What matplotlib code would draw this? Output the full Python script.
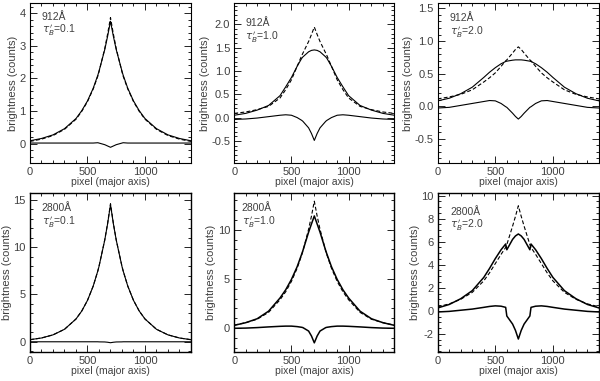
import matplotlib
matplotlib.use("Agg")
import matplotlib.pyplot as plt
from matplotlib.ticker import MultipleLocator, FormatStrFormatter

# pixel positions along the major axis (shared by every curve)
pixel = [0, 100, 200, 300, 400, 450, 500, 550, 590, 600, 650, 675, 700,
         725, 750, 800, 810, 850, 900, 950, 1000, 1100, 1200, 1300, 1400]

# 912 A, tau = 0.1
solid_912_01 = [0.09, 0.16, 0.27, 0.46, 0.77, 1.01, 1.31, 1.70, 2.10, 2.22, 2.88, 3.29, 3.75,
                3.29, 2.88, 2.22, 2.10, 1.70, 1.31, 1.01, 0.77, 0.46, 0.27, 0.16, 0.09]
dashed_912_01 = [0.07, 0.14, 0.25, 0.44, 0.75, 0.99, 1.29, 1.68, 2.07, 2.20, 2.91, 3.36, 3.86,
                 3.36, 2.91, 2.20, 2.07, 1.68, 1.29, 0.99, 0.75, 0.44, 0.25, 0.14, 0.07]
diff_912_01 = [0.02, 0.02, 0.02, 0.02, 0.02, 0.02, 0.02, 0.02, 0.03, 0.02, -0.03, -0.07, -0.11,
               -0.07, -0.03, 0.02, 0.03, 0.02, 0.02, 0.02, 0.02, 0.02, 0.02, 0.02, 0.02]

# 912 A, tau = 1.0
solid_912_10 = [0.05, 0.09, 0.16, 0.26, 0.47, 0.66, 0.86, 1.10, 1.27, 1.30, 1.41, 1.44, 1.45,
                1.44, 1.41, 1.30, 1.27, 1.10, 0.86, 0.66, 0.47, 0.26, 0.16, 0.09, 0.05]
dashed_912_10 = [0.09, 0.12, 0.17, 0.24, 0.42, 0.60, 0.81, 1.10, 1.33, 1.38, 1.63, 1.78, 1.94,
                 1.78, 1.63, 1.38, 1.33, 1.10, 0.81, 0.60, 0.42, 0.24, 0.17, 0.12, 0.09]
diff_912_10 = [-0.04, -0.03, -0.01, 0.02, 0.05, 0.06, 0.05, 0.00, -0.06, -0.08, -0.22, -0.34, -0.49,
               -0.34, -0.22, -0.08, -0.06, 0.00, 0.05, 0.06, 0.05, 0.02, -0.01, -0.03, -0.04]

# 912 A, tau = 2.0
solid_912_20 = [0.08, 0.12, 0.19, 0.29, 0.44, 0.52, 0.59, 0.65, 0.685, 0.69, 0.705, 0.71, 0.71,
                0.71, 0.705, 0.69, 0.685, 0.65, 0.59, 0.52, 0.44, 0.29, 0.19, 0.12, 0.08]
dashed_912_20 = [0.11, 0.14, 0.18, 0.25, 0.37, 0.435, 0.51, 0.61, 0.695, 0.71, 0.815, 0.87, 0.91,
                 0.87, 0.815, 0.71, 0.695, 0.61, 0.51, 0.435, 0.37, 0.25, 0.18, 0.14, 0.11]
diff_912_20 = [-0.03, -0.02, 0.01, 0.04, 0.07, 0.085, 0.08, 0.04, -0.01, -0.02, -0.11, -0.16, -0.20,
               -0.16, -0.11, -0.02, -0.01, 0.04, 0.08, 0.085, 0.07, 0.04, 0.01, -0.02, -0.03]

# 2800 A, tau = 0.1
solid_2800_01 = [0.22, 0.40, 0.73, 1.32, 2.41, 3.25, 4.38, 5.90, 7.50, 7.96, 10.75, 12.48, 14.5,
                 12.48, 10.75, 7.96, 7.50, 5.90, 4.38, 3.25, 2.41, 1.32, 0.73, 0.40, 0.22]
dashed_2800_01 = [0.22, 0.40, 0.73, 1.32, 2.41, 3.25, 4.38, 5.90, 7.50, 7.97, 10.77, 12.53, 14.6,
                  12.53, 10.77, 7.97, 7.50, 5.90, 4.38, 3.25, 2.41, 1.32, 0.73, 0.40, 0.22]
diff_2800_01 = [0.0, 0.0, 0.0, 0.0, 0.0, 0.0, 0.0, 0.0, 0.0, -0.01, -0.02, -0.05, -0.10,
                -0.05, -0.02, -0.01, 0.0, 0.0, 0.0, 0.0, 0.0, 0.0, 0.0, 0.0, 0.0]

# 2800 A, tau = 1.0
solid_2800_10 = [0.28, 0.55, 0.95, 1.72, 3.06, 3.90, 4.95, 6.24, 7.53, 7.87, 9.75, 10.58, 11.4,
                 10.58, 9.75, 7.87, 7.53, 6.24, 4.95, 3.90, 3.06, 1.72, 0.95, 0.55, 0.28]
dashed_2800_10 = [0.30, 0.55, 0.90, 1.60, 2.88, 3.70, 4.75, 6.09, 7.45, 7.82, 10.05, 11.38, 12.9,
                  11.38, 10.05, 7.82, 7.45, 6.09, 4.75, 3.70, 2.88, 1.60, 0.90, 0.55, 0.30]
diff_2800_10 = [-0.02, 0.0, 0.05, 0.12, 0.18, 0.20, 0.20, 0.15, 0.08, 0.05, -0.30, -0.80, -1.50,
                -0.80, -0.30, 0.05, 0.08, 0.15, 0.20, 0.20, 0.18, 0.12, 0.05, 0.0, -0.02]

# 2800 A, tau = 2.0
solid_2800_20 = [0.25, 0.55, 1.05, 1.75, 2.90, 3.68, 4.53, 5.30, 5.80, 5.30, 6.20, 6.50, 6.67,
                 6.50, 6.20, 5.30, 5.80, 5.30, 4.53, 3.68, 2.90, 1.75, 1.05, 0.55, 0.25]
dashed_2800_20 = [0.35, 0.60, 1.00, 1.60, 2.60, 3.30, 4.10, 4.90, 5.50, 5.75, 7.35, 8.20, 9.12,
                  8.20, 7.35, 5.75, 5.50, 4.90, 4.10, 3.30, 2.60, 1.60, 1.00, 0.60, 0.35]
diff_2800_20 = [-0.10, -0.05, 0.05, 0.15, 0.30, 0.38, 0.43, 0.40, 0.30, -0.45, -1.15, -1.70, -2.45,
                -1.70, -1.15, -0.45, 0.30, 0.40, 0.43, 0.38, 0.30, 0.15, 0.05, -0.05, -0.10]

wavelengths = ["912Å", "912Å", "912Å", "2800Å", "2800Å", "2800Å"]
taus = ["0.1", "1.0", "2.0", "0.1", "1.0", "2.0"]

plt.rcParams["font.family"] = ["Liberation Sans", "DejaVu Sans"]
plt.rcParams["mathtext.fontset"] = "dejavusans"
plt.rcParams["axes.unicode_minus"] = False

fig = plt.figure(figsize=(6.0, 3.81), dpi=100)

lefts = [0.050, 0.3905, 0.7295]
widths = [0.2683, 0.2667, 0.2688]
bottoms = [0.5714, 0.0769]
heights = [0.420, 0.4157]

panels = [
    (solid_912_01, dashed_912_01, diff_912_01, (-0.6, 4.3), 1.0, 0.2, "%d", (0.073, 0.915)),
    (solid_912_10, dashed_912_10, diff_912_10, (-0.98, 2.45), 0.5, 0.1, "%.1f", (0.067, 0.875)),
    (solid_912_20, dashed_912_20, diff_912_20, (-0.88, 1.58), 0.5, 0.1, "%.1f", (0.076, 0.905)),
    (solid_2800_01, dashed_2800_01, diff_2800_01, (-1.05, 15.7), 5.0, 1.0, "%d", (0.073, 0.905)),
    (solid_2800_10, dashed_2800_10, diff_2800_10, (-2.4, 13.7), 5.0, 1.0, "%d", (0.046, 0.905)),
    (solid_2800_20, dashed_2800_20, diff_2800_20, (-3.55, 10.2), 2.0, 0.5, "%d", (0.076, 0.88)),
]

txt_color = "0.25"
for i, (solid, dashed, diff, ylim, major, minor, fmt, tpos) in enumerate(panels):
    row, col = divmod(i, 3)
    ax = fig.add_axes([lefts[col], bottoms[row], widths[col], heights[row]])
    lw = 1.1 if row == 1 and col > 0 else 0.8
    ax.plot(pixel, dashed, color="k", lw=0.8, dashes=(3.5, 2.0))
    ax.plot(pixel, solid, color="k", lw=lw)
    ax.plot(pixel, diff, color="k", lw=lw)

    ax.set_xlim(0, 1400)
    ax.set_ylim(*ylim)
    ax.xaxis.set_major_locator(MultipleLocator(500))
    ax.xaxis.set_minor_locator(MultipleLocator(100))
    ax.yaxis.set_major_locator(MultipleLocator(major))
    ax.yaxis.set_minor_locator(MultipleLocator(minor))
    ax.yaxis.set_major_formatter(FormatStrFormatter(fmt))
    ax.tick_params(which="both", direction="in", top=True, right=True,
                   labelsize=8, colors="k", labelcolor=txt_color, width=0.6)
    ax.tick_params(which="major", length=5, pad=3)
    ax.tick_params(which="minor", length=2.5)
    for sp in ax.spines.values():
        sp.set_linewidth(0.8 if row == 0 else 1.0)

    ax.set_xlabel("pixel (major axis)", fontsize=7.5, color=txt_color, labelpad=0)
    ax.set_ylabel("brightness (counts)", fontsize=8, color=txt_color, labelpad=1)

    tx, ty = tpos
    ax.text(tx, ty, wavelengths[i], transform=ax.transAxes, fontsize=7.5,
            va="center", ha="left", color=txt_color)
    ax.text(tx, ty - 0.085, r"$\tau_B^{\,\prime}$=" + taus[i], transform=ax.transAxes,
            fontsize=7.5, va="center", ha="left", color=txt_color)

fig.savefig("out.png", dpi=100)
plt.close(fig)
